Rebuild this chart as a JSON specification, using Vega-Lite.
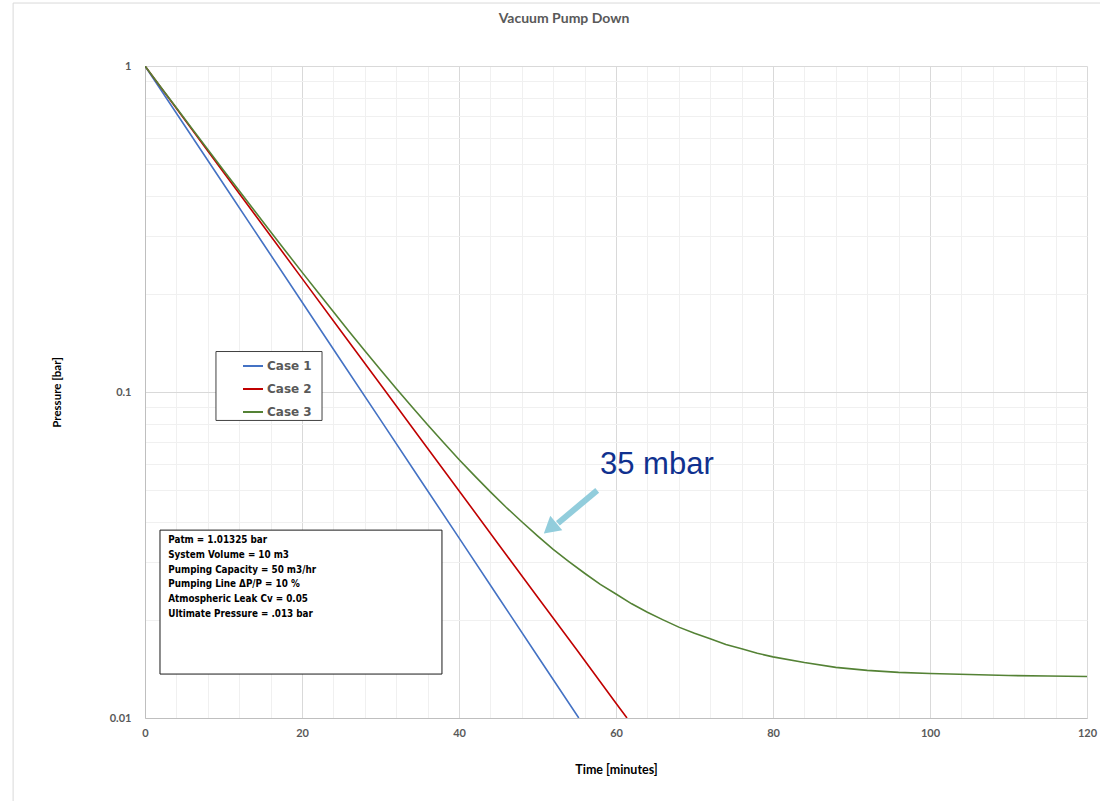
{
  "$schema": "https://vega.github.io/schema/vega-lite/v6.json",
  "width": 942,
  "height": 652,
  "autosize": {"type": "none"},
  "padding": {"left": 145, "top": 66, "right": 13, "bottom": 83},
  "background": "white",
  "title": {"text": "Vacuum Pump Down", "anchor": "middle", "frame": "group", "dx": -52, "offset": -23, "font": "Lato", "fontSize": 14, "fontWeight": "bold", "color": "#595959"},
  "config": {"view": {"stroke": null}, "font": "Lato"},
  "datasets": {
    "curves": [
      {"series": "Case 1", "t": 0, "p": 1},
      {"series": "Case 1", "t": 5, "p": 0.6592},
      {"series": "Case 1", "t": 10, "p": 0.4346},
      {"series": "Case 1", "t": 15, "p": 0.2865},
      {"series": "Case 1", "t": 20, "p": 0.1889},
      {"series": "Case 1", "t": 25, "p": 0.1245},
      {"series": "Case 1", "t": 30, "p": 0.0821},
      {"series": "Case 1", "t": 35, "p": 0.0541},
      {"series": "Case 1", "t": 40, "p": 0.0357},
      {"series": "Case 1", "t": 45, "p": 0.0235},
      {"series": "Case 1", "t": 50, "p": 0.0155},
      {"series": "Case 1", "t": 55.26, "p": 0.01},
      {"series": "Case 2", "t": 0, "p": 1},
      {"series": "Case 2", "t": 5, "p": 0.6873},
      {"series": "Case 2", "t": 10, "p": 0.4724},
      {"series": "Case 2", "t": 15, "p": 0.3247},
      {"series": "Case 2", "t": 20, "p": 0.2231},
      {"series": "Case 2", "t": 25, "p": 0.1534},
      {"series": "Case 2", "t": 30, "p": 0.1054},
      {"series": "Case 2", "t": 35, "p": 0.0724},
      {"series": "Case 2", "t": 40, "p": 0.0498},
      {"series": "Case 2", "t": 45, "p": 0.0342},
      {"series": "Case 2", "t": 50, "p": 0.0235},
      {"series": "Case 2", "t": 55, "p": 0.0162},
      {"series": "Case 2", "t": 60, "p": 0.0111},
      {"series": "Case 2", "t": 61.4, "p": 0.01},
      {"series": "Case 3", "t": 0, "p": 1},
      {"series": "Case 3", "t": 2, "p": 0.8625},
      {"series": "Case 3", "t": 4, "p": 0.7442},
      {"series": "Case 3", "t": 6, "p": 0.6423},
      {"series": "Case 3", "t": 8, "p": 0.5547},
      {"series": "Case 3", "t": 10, "p": 0.4792},
      {"series": "Case 3", "t": 12, "p": 0.4143},
      {"series": "Case 3", "t": 14, "p": 0.3584},
      {"series": "Case 3", "t": 16, "p": 0.3103},
      {"series": "Case 3", "t": 18, "p": 0.2688},
      {"series": "Case 3", "t": 20, "p": 0.2332},
      {"series": "Case 3", "t": 22, "p": 0.2025},
      {"series": "Case 3", "t": 24, "p": 0.1762},
      {"series": "Case 3", "t": 26, "p": 0.1534},
      {"series": "Case 3", "t": 28, "p": 0.1339},
      {"series": "Case 3", "t": 30, "p": 0.117},
      {"series": "Case 3", "t": 32, "p": 0.1025},
      {"series": "Case 3", "t": 34, "p": 0.0901},
      {"series": "Case 3", "t": 36, "p": 0.0793},
      {"series": "Case 3", "t": 38, "p": 0.0701},
      {"series": "Case 3", "t": 40, "p": 0.0621},
      {"series": "Case 3", "t": 42, "p": 0.0553},
      {"series": "Case 3", "t": 44, "p": 0.0494},
      {"series": "Case 3", "t": 46, "p": 0.0443},
      {"series": "Case 3", "t": 48, "p": 0.04},
      {"series": "Case 3", "t": 50, "p": 0.0362},
      {"series": "Case 3", "t": 52, "p": 0.0329},
      {"series": "Case 3", "t": 54, "p": 0.0302},
      {"series": "Case 3", "t": 56, "p": 0.0278},
      {"series": "Case 3", "t": 58, "p": 0.0257},
      {"series": "Case 3", "t": 60, "p": 0.024},
      {"series": "Case 3", "t": 62, "p": 0.0224},
      {"series": "Case 3", "t": 64, "p": 0.0211},
      {"series": "Case 3", "t": 66, "p": 0.02},
      {"series": "Case 3", "t": 68, "p": 0.019},
      {"series": "Case 3", "t": 70, "p": 0.0182},
      {"series": "Case 3", "t": 72, "p": 0.0175},
      {"series": "Case 3", "t": 74, "p": 0.0168},
      {"series": "Case 3", "t": 76, "p": 0.0163},
      {"series": "Case 3", "t": 78, "p": 0.0158},
      {"series": "Case 3", "t": 80, "p": 0.0154},
      {"series": "Case 3", "t": 84, "p": 0.0148},
      {"series": "Case 3", "t": 88, "p": 0.0143},
      {"series": "Case 3", "t": 92, "p": 0.014},
      {"series": "Case 3", "t": 96, "p": 0.0138},
      {"series": "Case 3", "t": 100, "p": 0.0137},
      {"series": "Case 3", "t": 105, "p": 0.0136},
      {"series": "Case 3", "t": 110, "p": 0.0135},
      {"series": "Case 3", "t": 115, "p": 0.01345},
      {"series": "Case 3", "t": 120, "p": 0.0134}
    ]
  },
  "layer": [
    {
      "data": {"values": [{}]},
      "mark": {"type": "rect", "fill": null, "filled": false, "stroke": "#d9d9d9", "strokeWidth": 1, "clip": false},
      "encoding": {
        "x": {"datum": -16.8, "type": "quantitative"},
        "x2": {"datum": 135},
        "y": {"datum": 1.56, "type": "quantitative"},
        "y2": {"datum": 0.001}
      }
    },
    {
      "data": {"values": [{}]},
      "mark": {"type": "rect", "fill": "white", "stroke": "#1a1a1a", "strokeWidth": 1},
      "encoding": {
        "x": {"datum": 1.91, "type": "quantitative"},
        "x2": {"datum": 37.83},
        "y": {"datum": 0.0377, "type": "quantitative"},
        "y2": {"datum": 0.01364}
      }
    },
    {
      "data": {"values": [{}]},
      "mark": {"type": "rect", "fill": "white", "stroke": "#404040", "strokeWidth": 1},
      "encoding": {
        "x": {"datum": 9.04, "type": "quantitative"},
        "x2": {"datum": 22.55},
        "y": {"datum": 0.1331, "type": "quantitative"},
        "y2": {"datum": 0.0818}
      }
    },
    {
      "data": {"name": "curves"},
      "mark": {"type": "line", "strokeWidth": 1.6, "clip": true},
      "encoding": {
        "x": {
          "field": "t", "type": "quantitative", "title": "Time [minutes]",
          "scale": {"domain": [0, 120], "nice": false, "zero": false},
          "axis": {
            "values": [0,4,8,12,16,20,24,28,32,36,40,44,48,52,56,60,64,68,72,76,80,84,88,92,96,100,104,108,112,116,120],
            "tickCount": 60,
            "labelExpr": "datum.value % 20 === 0 ? format(datum.value, 'd') : ''",
            "grid": true,
            "gridColor": {"condition": {"test": "datum.value % 20 === 0", "value": "#d9d9d9"}, "value": "#f0f0f0"},
            "gridWidth": 1,
            "ticks": false,
            "domainColor": "#bfbfbf",
            "labelFont": "Lato", "labelFontSize": 11, "labelFontWeight": "bold", "labelColor": "#595959",
            "labelPadding": 9, "labelOverlap": false, "labelFlush": false,
            "titleFont": "Lato", "titleFontSize": 12.5, "titleFontWeight": "bold", "titleColor": "#000000",
            "titlePadding": 25
          }
        },
        "y": {
          "field": "p", "type": "quantitative", "title": "Pressure [bar]",
          "scale": {"type": "log", "domain": [0.01, 1], "nice": false},
          "axis": {
            "values": [0.01,0.02,0.03,0.04,0.05,0.06,0.07,0.08,0.09,0.1,0.2,0.3,0.4,0.5,0.6,0.7,0.8,0.9,1],
            "tickCount": 60,
            "labelExpr": "datum.value == 1 ? '1' : datum.value == 0.1 ? '0.1' : datum.value == 0.01 ? '0.01' : ''",
            "grid": true,
            "gridColor": {"condition": {"test": "datum.value == 1 || datum.value == 0.1 || datum.value == 0.01", "value": "#d9d9d9"}, "value": "#f0f0f0"},
            "ticks": false,
            "domainColor": "#bfbfbf",
            "labelFont": "Lato", "labelFontSize": 11, "labelFontWeight": "bold", "labelColor": "#595959",
            "labelPadding": 14, "labelOverlap": false, "labelFlush": false,
            "titleFont": "Lato", "titleFontSize": 11.5, "titleFontWeight": "bold", "titleColor": "#000000",
            "titlePadding": 47
          }
        },
        "color": {
          "field": "series", "type": "nominal",
          "scale": {"domain": ["Case 1", "Case 2", "Case 3"], "range": ["#4472c4", "#c00000", "#548235"]},
          "legend": {
            "title": null, "orient": "none", "legendX": 97, "legendY": 289, "direction": "vertical",
            "padding": 0,
            "symbolType": "stroke", "symbolStrokeWidth": 2, "symbolSize": 400, "symbolOffset": 0,
            "labelFont": "DejaVu Sans", "labelFontSize": 12, "labelFontWeight": "bold", "labelColor": "#595959",
            "labelOffset": 3, "rowPadding": 6
          }
        }
      }
    },
    {
      "data": {"values": [{}]},
      "mark": {
        "type": "text", "align": "left", "baseline": "top", "lineHeight": 14.7,
        "font": "DejaVu Sans Condensed, DejaVu Sans", "fontSize": 9.8, "fontWeight": "bold", "color": "#000000",
        "text": ["Patm = 1.01325  bar", "System Volume = 10 m3", "Pumping Capacity = 50 m3/hr", "Pumping Line ΔP/P = 10 %", "Atmospheric Leak Cv = 0.05", "Ultimate Pressure = .013  bar"]
      },
      "encoding": {
        "x": {"datum": 2.96, "type": "quantitative"},
        "y": {"datum": 0.03634, "type": "quantitative"}
      }
    },
    {
      "data": {"values": [{}]},
      "mark": {"type": "text", "text": "35 mbar", "align": "left", "baseline": "alphabetic", "font": "Liberation Sans", "fontSize": 31, "color": "#10318f"},
      "encoding": {
        "x": {"datum": 57.96, "type": "quantitative"},
        "y": {"datum": 0.0559, "type": "quantitative"}
      }
    },
    {
      "data": {"values": [{}]},
      "mark": {"type": "rule", "color": "#92cddc", "strokeWidth": 6, "strokeCap": "butt"},
      "encoding": {
        "x": {"datum": 57.6, "type": "quantitative"},
        "x2": {"datum": 52.6},
        "y": {"datum": 0.0499, "type": "quantitative"},
        "y2": {"datum": 0.03957}
      }
    },
    {
      "data": {"values": [{}]},
      "mark": {"type": "point", "shape": "triangle-up", "filled": true, "color": "#92cddc", "opacity": 1, "size": 350, "angle": 230},
      "encoding": {
        "x": {"datum": 51.6, "type": "quantitative"},
        "y": {"datum": 0.0382, "type": "quantitative"}
      }
    }
  ]
}
